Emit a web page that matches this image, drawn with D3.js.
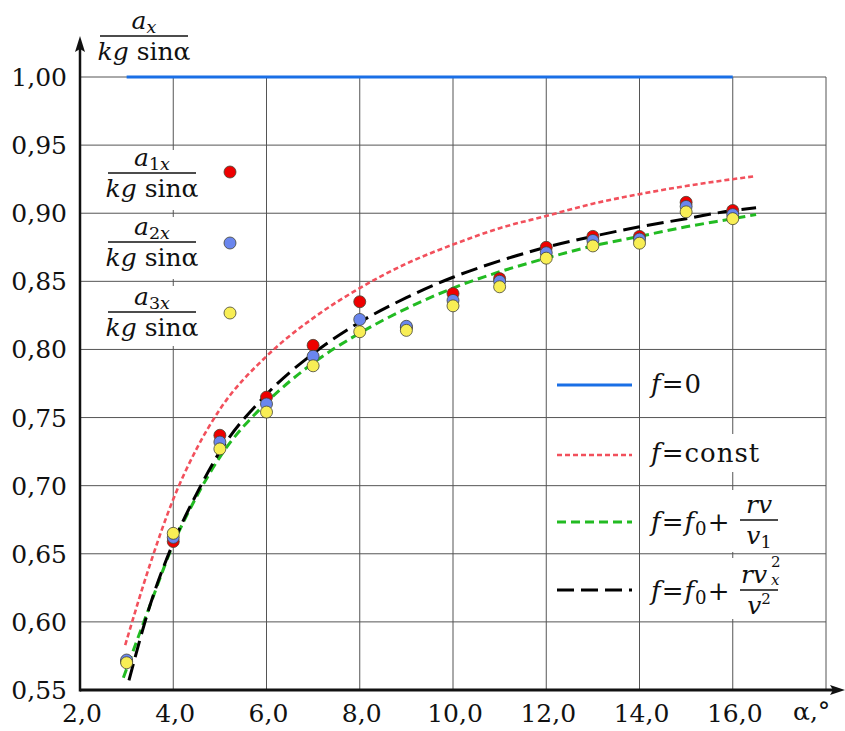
<!DOCTYPE html>
<html><head><meta charset="utf-8">
<script src="https://cdn.jsdelivr.net/npm/d3@7"></script>
<style>body{margin:0;background:#fff}svg{display:block}text{font-family:"DejaVu Serif",serif;fill:#111}</style>
</head><body>
<svg id="c" width="845" height="731"></svg>
<script>
// ---- data ----
const alphas = [3,4,5,6,7,8,9,10,11,12,13,14,15,16];
const a1 = [0.571,0.659,0.737,0.765,0.803,0.835,0.816,0.841,0.852,0.875,0.883,0.883,0.908,0.902];
const a2 = [0.572,0.662,0.732,0.760,0.795,0.822,0.817,0.836,0.850,0.871,0.880,0.881,0.905,0.899];
const a3 = [0.570,0.665,0.727,0.754,0.788,0.813,0.814,0.832,0.846,0.867,0.876,0.878,0.901,0.896];
const fZero = [[3,1.0],[16,1.0]];
const fConst = [[2.97,0.583],[3.5,0.642],[4,0.690],[4.5,0.727],[5,0.756],[6,0.795],[7,0.823],[8,0.845],[9,0.863],[10,0.877],[11,0.889],[12,0.898],[13,0.907],[14,0.914],[15,0.920],[16,0.925],[16.45,0.927]];
const fLin = [[2.93,0.559],[3.5,0.612],[4,0.657],[4.5,0.692],[5,0.721],[6,0.761],[7,0.790],[8,0.812],[9,0.830],[10,0.845],[11,0.857],[12,0.867],[13,0.876],[14,0.883],[15,0.890],[16,0.896],[16.5,0.899]];
const fQuad = [[3.05,0.557],[3.5,0.612],[4,0.658],[4.5,0.694],[5,0.725],[6,0.767],[7,0.797],[8,0.820],[9,0.838],[10,0.853],[11,0.865],[12,0.875],[13,0.883],[14,0.890],[15,0.896],[16,0.902],[16.5,0.904]];
const xTicks = [2,4,6,8,10,12,14,16];
const xGrid = [4,6,8,10,12,14,16,18];
const yTicks = [0.55,0.60,0.65,0.70,0.75,0.80,0.85,0.90,0.95,1.00];
const fmtX = d => d.toFixed(1).replace('.', ',');
const fmtY = d => d.toFixed(2).replace('.', ',');

const svg = d3.select('#c');
const x = d3.scaleLinear().domain([2,18]).range([80,826]);
const y = d3.scaleLinear().domain([0.55,1.0]).range([690,77]);

// grid
const g = svg.append('g');
g.selectAll('line.v').data(xGrid).join('line')
  .attr('x1',d=>x(d)).attr('x2',d=>x(d)).attr('y1',y(1)).attr('y2',y(0.55))
  .attr('stroke','#555').attr('stroke-width',1);
g.selectAll('line.h').data(yTicks.filter(d=>d>0.55)).join('line')
  .attr('x1',x(2)).attr('x2',x(18)).attr('y1',d=>y(d)).attr('y2',d=>y(d))
  .attr('stroke','#555').attr('stroke-width',1);

// white boxes behind legend texts (between grid lines)
const wb = [[100,150,106,60],[100,217,106,62],[100,286,106,60],[642,364,80,40],[642,434,130,38],[642,490,145,62],[642,558,150,61]];
svg.selectAll('rect.wb').data(wb).join('rect').attr('x',d=>d[0]).attr('y',d=>d[1]).attr('width',d=>d[2]).attr('height',d=>d[3]).attr('fill','#fff');

// curves
const line = d3.line().x(d=>x(d[0])).y(d=>y(d[1])).curve(d3.curveMonotoneX);
svg.append('path').attr('d',line(fZero)).attr('fill','none').attr('stroke','#1a6fe6').attr('stroke-width',3);
svg.append('path').attr('d',line(fConst)).attr('fill','none').attr('stroke','#f2505c').attr('stroke-width',2.6).attr('stroke-dasharray','5,3');
svg.append('path').attr('d',line(fLin)).attr('fill','none').attr('stroke','#22bb22').attr('stroke-width',3).attr('stroke-dasharray','9,5');
svg.append('path').attr('d',line(fQuad)).attr('fill','none').attr('stroke','#000').attr('stroke-width',3).attr('stroke-dasharray','17,7');

// points
const series = [[a1,'#ee0000'],[a2,'#6a86ee'],[a3,'#f8ee55']];
series.forEach(([vals,col])=>{
  svg.append('g').selectAll('circle').data(alphas).join('circle')
    .attr('cx',d=>x(d)).attr('cy',(d,i)=>y(vals[i])).attr('r',6)
    .attr('fill',col).attr('stroke','#443').attr('stroke-width',0.8);
});

// axes
svg.append('line').attr('x1',x(2)).attr('x2',838).attr('y1',y(0.55)).attr('y2',y(0.55)).attr('stroke','#111').attr('stroke-width',3);
svg.append('path').attr('d',`M845,${y(0.55)} L830,${y(0.55)-5} L833,${y(0.55)} L830,${y(0.55)+5} Z`).attr('fill','#111');
svg.append('line').attr('x1',x(2)).attr('x2',x(2)).attr('y1',y(0.55)+1.5).attr('y2',46).attr('stroke','#111').attr('stroke-width',2.5);
svg.append('path').attr('d',`M${x(2)},36 L${x(2)-5},52 L${x(2)},49 L${x(2)+5},52 Z`).attr('fill','#111');

svg.selectAll('text.yt').data(yTicks).join('text')
  .attr('x',67).attr('y',d=>y(d)+9).attr('text-anchor','end').attr('font-size',25).text(fmtY);
svg.selectAll('text.xt').data(xTicks).join('text')
  .attr('x',d=>x(d)+2).attr('y',722).attr('text-anchor','middle').attr('font-size',25).text(fmtX);
svg.append('text').attr('x',793).attr('y',720).attr('font-size',25).text('α,°');

// fraction helper
function frac(cx, barY, num, den, w, fs){
  const gg = svg.append('g');
  const t1 = gg.append('text').attr('x',cx).attr('y',barY-7).attr('text-anchor','middle').attr('font-size',fs);
  num(t1);
  gg.append('line').attr('x1',cx-w/2).attr('x2',cx+w/2).attr('y1',barY).attr('y2',barY).attr('stroke','#111').attr('stroke-width',1.6);
  const t2 = gg.append('text').attr('x',cx).attr('y',barY+fs*0.95).attr('text-anchor','middle').attr('font-size',fs);
  den(t2);
}
const denKg = t => { t.append('tspan').attr('font-style','italic').text('kg'); t.append('tspan').text(' sinα'); };
const numA = sub => t => { t.append('tspan').attr('font-style','italic').text('a'); t.append('tspan').attr('font-size','0.7em').attr('dy',4).attr('font-style', sub==='x'?'italic':'normal').text(sub[0]); if(sub.length>1) t.append('tspan').attr('font-size','0.7em').attr('font-style','italic').text(sub.slice(1)); };

frac(144, 36, numA('x'), denKg, 88, 25);
const legPts = [[a1,'#ee0000','1x',173,172],[a2,'#6a86ee','2x',242,243],[a3,'#f8ee55','3x',312,313]];
legPts.forEach(([v,col,sub,bar,my])=>{
  frac(152, bar, numA(sub), denKg, 88, 25);
  svg.append('circle').attr('cx',230).attr('cy',my).attr('r',6).attr('fill',col).attr('stroke','#443').attr('stroke-width',0.8);
});

// right legend
const lx1 = 557, lx2 = 632;
svg.append('line').attr('x1',lx1).attr('x2',lx2).attr('y1',385).attr('y2',385).attr('stroke','#1a6fe6').attr('stroke-width',3);
svg.append('line').attr('x1',lx1).attr('x2',lx2).attr('y1',455).attr('y2',455).attr('stroke','#f2505c').attr('stroke-width',2.6).attr('stroke-dasharray','5,3');
svg.append('line').attr('x1',lx1).attr('x2',lx2).attr('y1',522).attr('y2',522).attr('stroke','#22bb22').attr('stroke-width',3).attr('stroke-dasharray','9,5');
svg.append('line').attr('x1',lx1).attr('x2',lx2).attr('y1',590).attr('y2',590).attr('stroke','#000').attr('stroke-width',3).attr('stroke-dasharray','17,7');

function fEq(yb){
  const t = svg.append('text').attr('x',651).attr('y',yb).attr('font-size',26).attr('letter-spacing',1);
  t.append('tspan').attr('font-style','italic').text('f');
  t.append('tspan').text('=');
  return t;
}
fEq(393).append('tspan').text('0');
fEq(462).append('tspan').text('const');
[[531,520,'rv','v','1'],[600,590,'rv','v','2']].forEach(([yb,bar,n,d,k],i)=>{
  const t = fEq(yb);
  t.append('tspan').attr('font-style','italic').text('f');
  t.append('tspan').attr('font-size','0.7em').attr('dy',4).text('0');
  t.append('tspan').attr('dy',-4).text('+');
  const cx = 759;
  svg.append('line').attr('x1',cx-19).attr('x2',cx+19).attr('y1',bar).attr('y2',bar).attr('stroke','#111').attr('stroke-width',1.6);
  const tn = svg.append('text').attr('x',i===1?cx-5:cx).attr('y',bar-7).attr('text-anchor','middle').attr('font-size',25);
  tn.append('tspan').attr('font-style','italic').text('rv');
  const td = svg.append('text').attr('x',cx).attr('y',bar+24).attr('text-anchor','middle').attr('font-size',25);
  td.append('tspan').attr('font-style','italic').text('v');
  if(i===0) td.append('tspan').attr('font-size','0.7em').attr('dy',4).text('1');
  else {
    td.append('tspan').attr('font-size','0.6em').attr('dy',-10).text('2');
    svg.append('text').attr('x',cx+12).attr('y',bar-23).attr('font-size',15).text('2');
    svg.append('text').attr('x',cx+12).attr('y',bar-5).attr('font-size',15).attr('font-style','italic').text('x');
  }
});
</script>
</body></html>
